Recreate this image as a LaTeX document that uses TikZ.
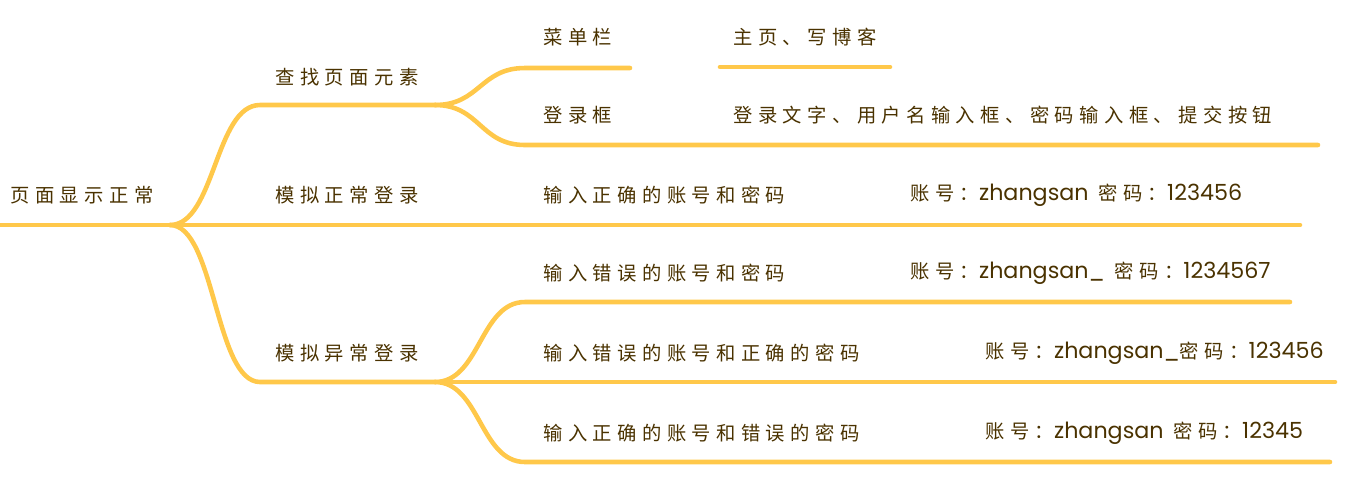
\documentclass[tikz,border=0pt]{standalone}
\usepackage{fontspec}
\setmainfont{Noto Sans CJK SC}[LetterSpace=28]
\newfontfamily\lat{Poppins}[Scale=1.15]
\definecolor{branch}{HTML}{FFC84A}
\definecolor{ink}{HTML}{4A3200}
\begin{document}
\begin{tikzpicture}[x=0.02cm,y=-0.02cm,
  lbl/.style={anchor=west,inner sep=0pt,text=ink,font=\fontsize{11}{13}\selectfont},
  edge/.style={branch,line width=2.6pt,line cap=round}]
\useasboundingbox (0,0) rectangle (1367,485);
% texte
\node[lbl] (root) at (10,195) {页面显示正常};
\node[lbl] (find) at (275,77) {查找页面元素};
\node[lbl] (norm) at (275,195) {模拟正常登录};
\node[lbl] (abn) at (275,353) {模拟异常登录};
\node[lbl] (menu) at (543,37) {菜单栏};
\node[lbl] (menul) at (733,37) {主页、写博客};
\node[lbl] (box) at (543,115) {登录框};
\node[lbl] (boxl) at (733,115) {登录文字、用户名输入框、密码输入框、提交按钮};
\node[lbl] (ok) at (543,195) {输入正确的账号和密码};
\node[lbl] (okl) at (910,195) {账号：{\lat zhangsan} 密码：{\lat 123456}};
\node[lbl] (e1) at (543,273) {输入错误的账号和密码};
\node[lbl] (e1l) at (910,273) {账号：{\lat zhangsan\_} 密码：{\lat 1234567}};
\node[lbl] (e2) at (543,353) {输入错误的账号和正确的密码};
\node[lbl] (e2l) at (985,353) {账号：{\lat zhangsan\_}密码：{\lat 123456}};
\node[lbl] (e3) at (543,433) {输入正确的账号和错误的密码};
\node[lbl] (e3l) at (985,433) {账号：{\lat zhangsan} 密码：{\lat 12345}};
% ecken
\coordinate (r0) at (0,225);   \coordinate (r1) at (170,225);
\coordinate (f0) at (260,105); \coordinate (f1) at (435,105);
\coordinate (n0) at (260,225); \coordinate (n1) at (435,225);
\coordinate (a0) at (260,382); \coordinate (a1) at (435,382);
\coordinate (m0) at (525,68);  \coordinate (m1) at (630,68);
\coordinate (m2) at (720,67);  \coordinate (m3) at (890,67);
\coordinate (b0) at (525,145); \coordinate (b1) at (1318,145);
\coordinate (o1) at (1300,225);
\coordinate (x0) at (525,302); \coordinate (x1) at (1290,302);
\coordinate (y1) at (1335,382);
\coordinate (z0) at (525,462); \coordinate (z1) at (1330,462);
% linien
\draw[edge] (r0) -- (r1);
\draw[edge] (r1) .. controls (215,225) and (215,105) .. (f0) -- (f1);
\draw[edge] (r1) -- (n0) -- (n1) -- (o1);
\draw[edge] (r1) .. controls (215,225) and (215,382) .. (a0) -- (a1);
\draw[edge] (f1) .. controls (480,105) and (480,68) .. (m0) -- (m1);
\draw[edge] (m2) -- (m3);
\draw[edge] (f1) .. controls (480,105) and (480,145) .. (b0) -- (b1);
\draw[edge] (a1) .. controls (480,382) and (480,302) .. (x0) -- (x1);
\draw[edge] (a1) -- (y1);
\draw[edge] (a1) .. controls (480,382) and (480,462) .. (z0) -- (z1);
\end{tikzpicture}
\end{document}
